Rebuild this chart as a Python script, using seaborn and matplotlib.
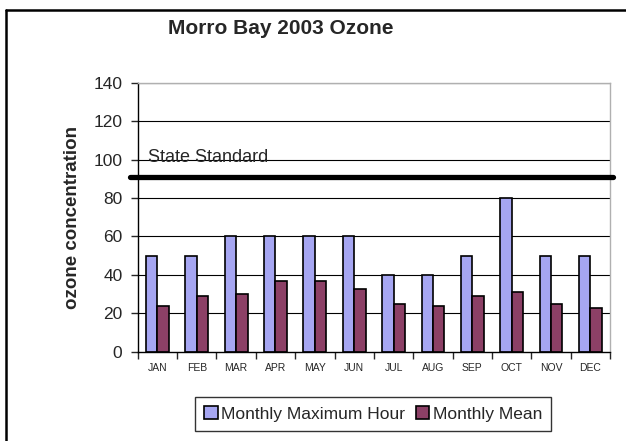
import matplotlib
matplotlib.use("Agg")
import matplotlib.pyplot as plt
from matplotlib.lines import Line2D
import seaborn as sns
import pandas as pd

months = ["JAN", "FEB", "MAR", "APR", "MAY", "JUN", "JUL", "AUG", "SEP", "OCT", "NOV", "DEC"]
max_hour = [50, 50, 60, 60, 60, 60, 40, 40, 50, 80, 50, 50]
monthly_mean = [24, 29, 30, 37, 37, 32.5, 25, 24, 29, 31, 25, 23]
series_names = ["Monthly Maximum Hour", "Monthly Mean"]
colors = ["#9999FF", "#993366"]
state_standard = 91
yticks = [0, 20, 40, 60, 80, 100, 120, 140]

sns.set_style("white")
plt.rcParams["font.family"] = ["Liberation Sans", "DejaVu Sans"]

df = pd.DataFrame({
    "month": months * 2,
    "value": max_hour + monthly_mean,
    "series": [series_names[0]] * 12 + [series_names[1]] * 12,
})

fig = plt.figure(figsize=(6.26, 4.41), dpi=100)
ax = fig.add_axes([0.22, 0.2025, 0.7545, 0.61])

sns.barplot(data=df, x="month", y="value", hue="series", order=months,
            hue_order=series_names, palette=colors, width=0.58, gap=0,
            edgecolor="black", linewidth=1.2, ax=ax, legend=True)

ax.set_ylim(0, 140)
ax.set_xlim(-0.5, 11.5)
ax.set_yticks(yticks)
ax.set_yticklabels([str(v) for v in yticks], fontsize=12.5)
ax.tick_params(axis="y", length=5, width=1, direction="out", pad=6, left=True)
ax.tick_params(axis="x", length=0, pad=8, labelsize=7.5)
ax.set_xticks(range(12))
ax.set_xticklabels(months)
ax.set_xticks([i - 0.5 for i in range(13)], minor=True)
ax.tick_params(axis="x", which="minor", length=5, width=1, direction="out", bottom=True)

for y in yticks[1:]:
    ax.axhline(y, color="black", linewidth=0.8, zorder=0)
ax.set_axisbelow(True)

for side in ["top", "right"]:
    ax.spines[side].set_color("#b0b0b0")
    ax.spines[side].set_linewidth(1)
for side in ["left", "bottom"]:
    ax.spines[side].set_color("black")
    ax.spines[side].set_linewidth(1)

ax.plot([-0.7, 11.57], [state_standard, state_standard], color="black",
        linewidth=3.8, solid_capstyle="round", clip_on=False, zorder=5)
ax.text(-0.25, 96.5, "State Standard", fontsize=13, va="bottom", ha="left", zorder=6)

ax.set_xlabel("")
ax.set_ylabel("ozone concentration", fontsize=13.5, fontweight="bold", labelpad=9)

fig.text(281 / 626, 1 - 28 / 441, "Morro Bay 2003 Ozone", fontsize=15, fontweight="bold",
         ha="center", va="center")

leg = ax.legend(loc="center", bbox_to_anchor=(0.5 * (195 + 551) / 626, (441 - 414) / 441),
                bbox_transform=fig.transFigure, ncol=2, frameon=True, fancybox=False,
                fontsize=12.5, handlelength=0.8, handleheight=0.8, handletextpad=0.2,
                columnspacing=0.6, borderpad=0.5, edgecolor="black")
leg.get_frame().set_linewidth(1)
leg.get_frame().set_edgecolor("black")
leg.set_title(None)

fig.add_artist(Line2D([5.5 / 626, 1.0], [1 - 9.5 / 441, 1 - 9.5 / 441],
                      transform=fig.transFigure, color="black", linewidth=1.8))
fig.add_artist(Line2D([5.5 / 626, 5.5 / 626], [0, 1 - 9.5 / 441],
                      transform=fig.transFigure, color="black", linewidth=1.8))

fig.savefig("out.png", dpi=100)
